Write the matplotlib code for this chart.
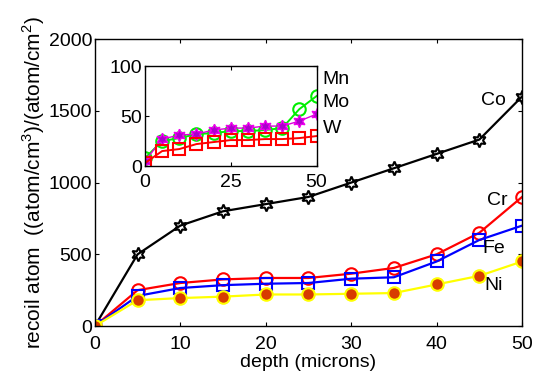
import numpy as np
import matplotlib
matplotlib.use("Agg")
import matplotlib.pyplot as plt

plt.rcParams['font.family'] = ['Liberation Sans', 'DejaVu Sans']
plt.rcParams['mathtext.fontset'] = 'custom'
plt.rcParams['mathtext.rm'] = 'Liberation Sans'

# depth in microns
depth = [0, 5, 10, 15, 20, 25, 30, 35, 40, 45, 50]

# main plot series
co = [0, 500, 700, 800, 850, 900, 1000, 1100, 1200, 1300, 1600]
cr = [0, 250, 300, 325, 335, 335, 365, 405, 500, 650, 900]
fe = [0, 210, 265, 285, 295, 300, 330, 340, 450, 600, 700]
ni = [0, 180, 195, 205, 220, 220, 225, 230, 290, 350, 450]

# inset series
mn = [8, 25, 28, 32, 33, 35, 35, 36, 38, 57, 70]
mo = [5, 27, 31, 32, 36, 38, 38, 40, 40, 45, 52]
w = [3, 15, 17, 22, 24, 26, 26, 27, 27, 28, 30]

fs = 14

fig = plt.figure(figsize=(5.36, 3.8), dpi=100)
ax = fig.add_axes([0.177, 0.142, 0.797, 0.755])

lw = 1.6
ax.plot(depth, co, color='black', lw=lw, marker=(6, 1, 0), ms=10, mfc='none', mec='black', mew=1.5)
ax.plot(depth, cr, color='red', lw=lw, marker='o', ms=9, mfc='none', mec='red', mew=1.5)
ax.plot(depth, fe, color='blue', lw=lw, marker='s', ms=8, mfc='none', mec='blue', mew=1.5)
ax.plot(depth, ni, color='#ffff00', lw=lw, marker='o', ms=9, mfc='#d83c00', mec='#ffff00', mew=1.5)

ax.set_xlim(0, 50)
ax.set_ylim(0, 2000)
ax.set_xticks([0, 10, 20, 30, 40, 50])
ax.set_yticks([0, 500, 1000, 1500, 2000])
ax.tick_params(direction='in', top=True, right=True, labelsize=fs, length=3, pad=2)
ax.tick_params(axis='x', pad=7)
ax.set_xlabel('depth (microns)', fontsize=fs, labelpad=1)
ax.set_ylabel('recoil atom  ((atom/cm$^3$)/(atom/cm$^2$)', fontsize=15, labelpad=1)
for s in ax.spines.values():
    s.set_linewidth(1.0)

ax.text(45.2, 1575, 'Co', fontsize=fs, va='center', ha='left')
ax.text(45.9, 878, 'Cr', fontsize=fs, va='center', ha='left')
ax.text(45.4, 543, 'Fe', fontsize=fs, va='center', ha='left')
ax.text(45.6, 286, 'Ni', fontsize=fs, va='center', ha='left')

# inset
ins = fig.add_axes([0.2705, 0.563, 0.320, 0.263])
ins.plot(depth, mn, color='#00ee00', lw=1.4, marker='o', ms=9, mfc='none', mec='#00ee00', mew=1.5)
ins.plot(depth, mo, color='#dd00dd', lw=1.0, marker=(6, 1, 0), ms=9, mfc='#aa00cc', mec='#ee00ee', mew=1.0)
ins.plot(depth, w, color='red', lw=1.4, marker='s', ms=8, mfc='none', mec='red', mew=1.5)
ins.set_xlim(0, 50)
ins.set_ylim(0, 100)
ins.set_xticks([0, 25, 50])
ins.set_yticks([0, 50, 100])
ins.tick_params(direction='in', top=True, right=True, labelsize=fs, length=3, pad=2)
ins.tick_params(axis='x', pad=6)
for s in ins.spines.values():
    s.set_linewidth(1.0)
ins.patch.set_facecolor('white')

ins.text(51.8, 87, 'Mn', fontsize=fs, va='center', ha='left', clip_on=False)
ins.text(51.8, 64, 'Mo', fontsize=fs, va='center', ha='left', clip_on=False)
ins.text(51.8, 38, 'W', fontsize=fs, va='center', ha='left', clip_on=False)

fig.savefig('out.png', dpi=100)
